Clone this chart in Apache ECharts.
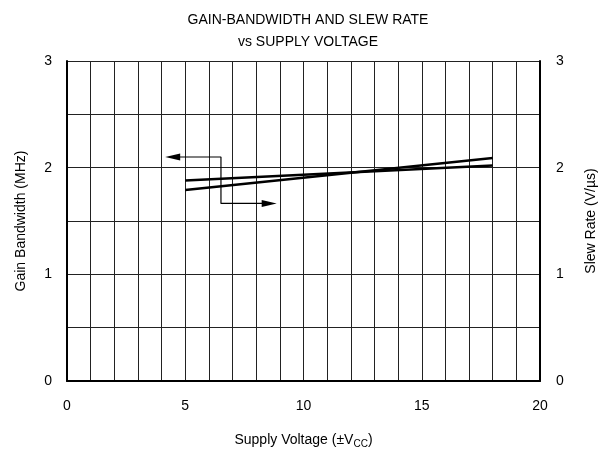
<!DOCTYPE html>
<html><head><meta charset="utf-8">
<script src="https://cdn.jsdelivr.net/npm/echarts@6/dist/echarts.min.js"></script>
<style>html,body{margin:0;padding:0;background:#fff}#c{width:600px;height:450px}</style>
</head><body><div id="c"></div>
<script>
const xTicks = [0, 5, 10, 15, 20];
const yTicks = [0, 1, 2, 3];
const supplyVoltage = [5, 18];
const gainBandwidth = [1.88, 2.02];
const slewRate = [1.79, 2.09];
const arrowPath = [[4.47, 2.10], [6.51, 2.10], [6.51, 1.665], [8.55, 1.665]];

const font = 'Liberation Sans, Arial, sans-serif';
const chart = echarts.init(document.getElementById('c'));
const labelFmt = v => yTicks.includes(v) ? String(v) : '';
const axisCommon = {
  type: 'value', min: 0, max: 3, interval: 0.5,
  axisLine: {show: true, lineStyle: {color: '#000', width: 2}},
  axisTick: {show: false},
  nameLocation: 'middle',
  nameTextStyle: {color: '#000', fontSize: 14, fontFamily: font}
};
chart.setOption({
  animation: false,
  title: {
    text: 'GAIN-BANDWIDTH AND SLEW RATE\nvs SUPPLY VOLTAGE',
    left: 303, top: 4, textAlign: 'center',
    textStyle: {color: '#000', fontSize: 14, fontWeight: 'normal', fontFamily: font, lineHeight: 22}
  },
  grid: {left: 67, right: 60, top: 61, bottom: 69, containLabel: false, outerBoundsMode: 'none'},
  xAxis: {
    type: 'value', min: 0, max: 20, interval: 1,
    axisLine: {show: true, lineStyle: {color: '#000', width: 2}},
    axisTick: {show: false},
    axisLabel: {color: '#000', fontSize: 14, fontFamily: font, margin: 18,
      formatter: v => xTicks.includes(v) ? String(v) : ''},
    splitLine: {show: true, lineStyle: {color: '#222', width: 1}},
    name: '{n|Supply Voltage (±V}{s|CC}{n|)}',
    nameLocation: 'middle', nameGap: 50,
    nameTextStyle: {rich: {
      n: {color: '#000', fontSize: 14, fontFamily: font},
      s: {color: '#000', fontSize: 10, fontFamily: font, verticalAlign: 'bottom', padding: [8, 0, 0, 0]}
    }}
  },
  yAxis: [
    Object.assign({}, axisCommon, {
      position: 'left', name: 'Gain Bandwidth (MHz)', nameGap: 39,
      splitLine: {show: true, lineStyle: {color: '#222', width: 1}},
      axisLabel: {color: '#000', fontSize: 14, fontFamily: font, margin: 15, formatter: labelFmt}
    }),
    Object.assign({}, axisCommon, {
      position: 'right', name: 'Slew Rate (V/µs)', nameGap: 44, nameRotate: 90,
      splitLine: {show: false},
      axisLabel: {color: '#000', fontSize: 14, fontFamily: font, margin: 16, formatter: labelFmt}
    })
  ],
  series: [
    {type: 'line', yAxisIndex: 0, data: supplyVoltage.map((x, i) => [x, gainBandwidth[i]]),
      showSymbol: false, lineStyle: {color: '#000', width: 2.5}, z: 5},
    {type: 'line', yAxisIndex: 1, data: supplyVoltage.map((x, i) => [x, slewRate[i]]),
      showSymbol: false, lineStyle: {color: '#000', width: 2.5}, z: 5},
    {type: 'line', yAxisIndex: 0,
      data: arrowPath.map((p, i) => ({
        value: p,
        symbol: (i === 0 || i === arrowPath.length - 1) ? 'triangle' : 'none',
        symbolSize: [7, 15],
        symbolRotate: i === 0 ? 90 : -90
      })),
      showAllSymbol: true,
      itemStyle: {color: '#000'},
      lineStyle: {color: '#000', width: 1.2}, z: 6}
  ]
});
</script></body></html>
